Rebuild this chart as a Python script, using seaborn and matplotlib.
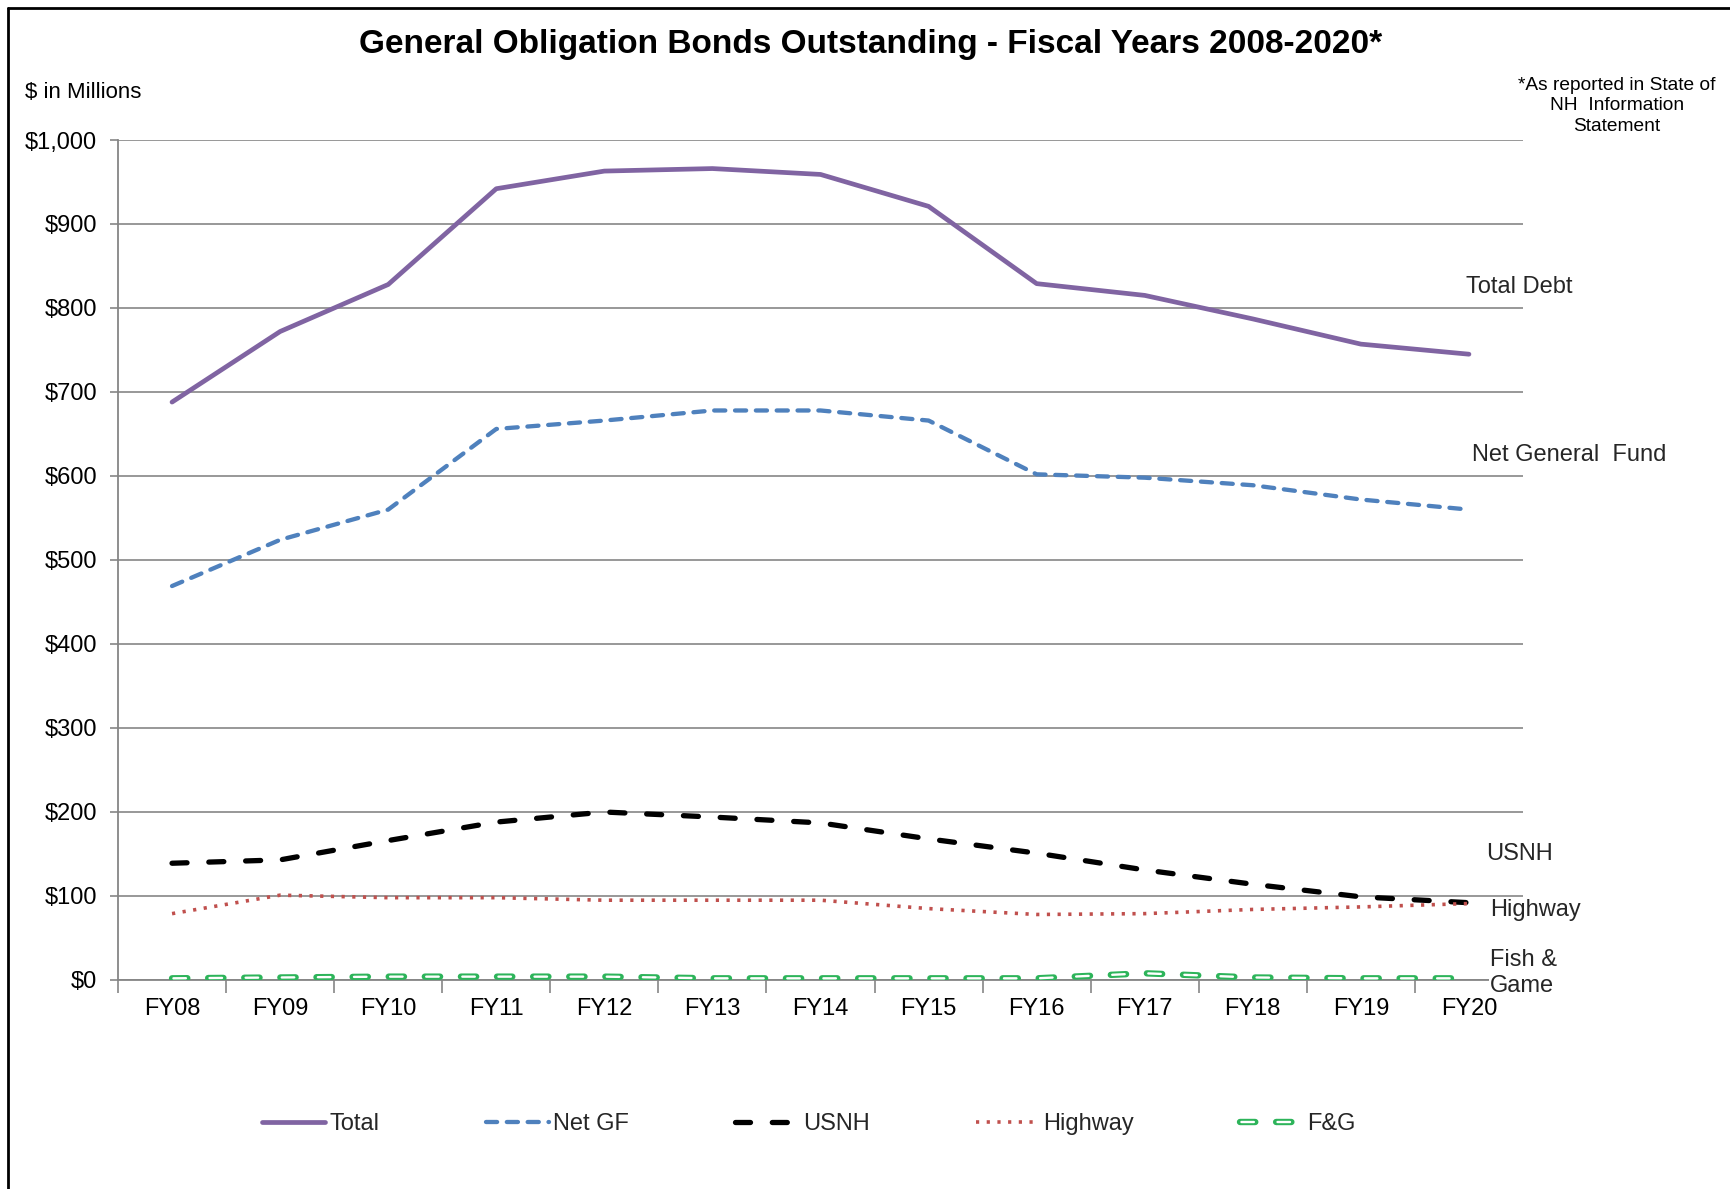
import matplotlib
matplotlib.use("Agg")
import matplotlib.pyplot as plt
import seaborn as sns
import pandas as pd
from matplotlib.lines import Line2D

# ---- data ----
years = ["FY08", "FY09", "FY10", "FY11", "FY12", "FY13", "FY14",
         "FY15", "FY16", "FY17", "FY18", "FY19", "FY20"]
total = [688, 772, 828, 942, 963, 966, 959, 921, 829, 815, 787, 757, 745]
net_gf = [469, 524, 560, 656, 666, 678, 678, 666, 602, 598, 589, 572, 560]
usnh = [139, 143, 166, 188, 200, 194, 187, 168, 151, 131, 114, 99, 92]
highway = [79, 101, 98, 98, 95, 95, 95, 85, 78, 79, 84, 87, 91]
fish_game = [2, 3, 4, 4, 4, 2, 2, 2, 2, 8, 3, 2, 2]
y_ticks = [0, 100, 200, 300, 400, 500, 600, 700, 800, 900, 1000]
y_tick_labels = ["$0", "$100", "$200", "$300", "$400", "$500", "$600",
                 "$700", "$800", "$900", "$1,000"]

sns.set_theme(style="white")
plt.rcParams["font.family"] = ["Liberation Sans", "DejaVu Sans"]
plt.rcParams["lines.scale_dashes"] = False

W, H = 1730, 1189
fig = plt.figure(figsize=(W / 100, H / 100), dpi=100)
ax = fig.add_axes([118 / W, 1 - 980 / H, (1523 - 118) / W, (980 - 140) / H])

df = pd.DataFrame({"year": years, "Total": total, "Net GF": net_gf,
                   "USNH": usnh, "Highway": highway, "F&G": fish_game})

purple = "#8064A2"
blue = "#4F81BD"
red = "#C0504D"
green = "#2DB45A"

st_total = dict(color=purple, linewidth=3.4)
st_gf = dict(color=blue, linewidth=3.1, linestyle=(0, (8, 7)),
             dash_capstyle="round")
st_usnh = dict(color="black", linewidth=3.8, linestyle=(0, (10.8, 15.7)),
               dash_capstyle="round")
st_hwy = dict(color=red, linewidth=2.6, linestyle=(0, (2.3, 5.4)))
st_fg_out = dict(color=green, linewidth=4.6, linestyle=(0, (11, 15)),
                 dash_capstyle="round")
st_fg_in = dict(color="white", linewidth=1.7, linestyle=(25, (9, 17)),
                dash_capstyle="round")

sns.lineplot(data=df, x="year", y="Total", ax=ax, sort=False, zorder=5, **st_total)
sns.lineplot(data=df, x="year", y="Net GF", ax=ax, sort=False, zorder=5, **st_gf)
sns.lineplot(data=df, x="year", y="USNH", ax=ax, sort=False, zorder=5, **st_usnh)
sns.lineplot(data=df, x="year", y="Highway", ax=ax, sort=False, zorder=5, **st_hwy)
sns.lineplot(data=df, x="year", y="F&G", ax=ax, sort=False, zorder=5, **st_fg_out)
sns.lineplot(data=df, x="year", y="F&G", ax=ax, sort=False, zorder=6, **st_fg_in)

ax.set_xlim(-0.5, 12.5)
ax.set_ylim(0, 1000)
ax.set_yticks(y_ticks)
ax.set_yticklabels(y_tick_labels, fontsize=17, color="black")
ax.set_xticks(range(len(years)))
ax.set_xticklabels(years, fontsize=17, color="black")
ax.set_xticks([i + 0.5 for i in range(-1, len(years))], minor=True)
ax.tick_params(axis="x", which="major", length=0, pad=13)
ax.tick_params(axis="x", which="minor", length=9, width=1.2, color="#868686",
               direction="out", bottom=True)
ax.tick_params(axis="y", which="major", length=6, width=1.2, color="#868686",
               direction="out", left=True, pad=9)
ax.set_xlabel("")
ax.set_ylabel("")
ax.grid(axis="y", color="#868686", lw=1.2)
ax.grid(axis="x", visible=False)
for s in ["top", "right"]:
    ax.spines[s].set_visible(False)
for s in ["left", "bottom"]:
    ax.spines[s].set_color("#868686")
    ax.spines[s].set_linewidth(1.3)

# ---- texts ----
fig.text(871 / W, 1 - 45 / H,
         "General Obligation Bonds Outstanding - Fiscal Years 2008-2020*",
         ha="center", va="center", fontsize=24, fontweight="bold", color="black")
fig.text(25 / W, 1 - 92 / H, "$ in Millions", ha="left", va="center",
         fontsize=16, color="black")
fig.text(1617 / W, 1 - 106 / H,
         "*As reported in State of\nNH  Information\nStatement",
         ha="center", va="center", fontsize=13.8, linespacing=1.3, color="black")

fs_lab = 17
fig.text(1466 / W, 1 - 287 / H, "Total Debt", ha="left", va="center", fontsize=fs_lab)
fig.text(1472 / W, 1 - 455 / H, "Net General  Fund", ha="left", va="center", fontsize=fs_lab)
fig.text(1486 / W, 1 - 854 / H, "USNH", ha="left", va="center", fontsize=fs_lab)
fig.text(1490 / W, 1 - 910 / H, "Highway", ha="left", va="center", fontsize=fs_lab)
fig.text(1490 / W, 1 - 973 / H, "Fish &\nGame", ha="left", va="center",
         fontsize=fs_lab, linespacing=1.25,
         bbox=dict(facecolor="white", edgecolor="none", pad=0.5))

# ---- legend ----
handles = [Line2D([], [], **st_total), Line2D([], [], **st_gf),
           Line2D([], [], **st_usnh), Line2D([], [], **st_hwy),
           (Line2D([], [], **st_fg_out), Line2D([], [], **st_fg_in))]
labels = ["Total", "Net GF", "USNH", "Highway", "F&G"]
leg = fig.legend(handles, labels, loc="center", bbox_to_anchor=(809 / W, 1 - 1124 / H),
                 ncol=5, frameon=False, fontsize=17, handlelength=2.65,
                 handletextpad=0.2, columnspacing=4.5)

# ---- frame lines (left and top) ----
fig.add_artist(Line2D([8 / W, 8 / W], [0, 1 - 8 / H], transform=fig.transFigure,
                      color="black", lw=2))
fig.add_artist(Line2D([8 / W, 1], [1 - 8 / H, 1 - 8 / H], transform=fig.transFigure,
                      color="black", lw=2))

fig.savefig("out.png", dpi=100, facecolor="white")
